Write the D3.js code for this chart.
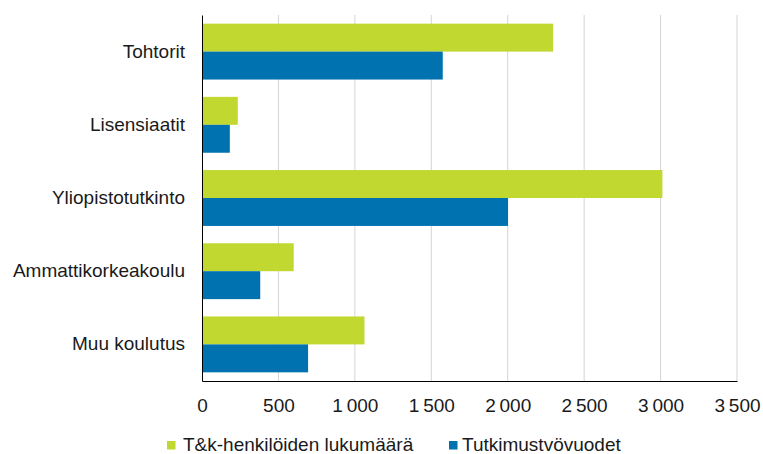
<!DOCTYPE html>
<html>
<head>
<meta charset="utf-8">
<script src="https://cdn.jsdelivr.net/npm/d3@7"></script>
<style>
  body { margin: 0; background: #fff; }
  svg { font-family: "Liberation Sans", Arial, sans-serif; }
</style>
</head>
<body>
<div id="chart"></div>
<script>
// Data
const categories = ['Tohtorit', 'Lisensiaatit', 'Yliopistotutkinto', 'Ammattikorkeakoulu', 'Muu koulutus'];
const seriesNames = ['T&k-henkilöiden lukumäärä', 'Tutkimustvövuodet'];
const henkilot = [2297, 234, 3012, 600, 1063];
const vuodet = [1575, 182, 2002, 381, 694];
const ticks = [0, 500, 1000, 1500, 2000, 2500, 3000, 3500];
const colors = ['#c0d82f', '#0072b0'];

const width = 763, height = 454;
const margin = [15, 26, 73, 202]; // top, right, bottom, left
const fontSize = '19px';

const svg = d3.select('#chart')
    .append('svg')
    .attr('width', width)
    .attr('height', height);

const chartW = width - margin[1] - margin[3];
const chartH = height - margin[0] - margin[2];

const chart = svg.append('g')
    .attr('transform', `translate(${margin[3]}, ${margin[0]})`);

// Scales
const x = d3.scaleLinear()
    .domain([0, 3500])
    .range([0, chartW]);

const y = d3.scaleBand()
    .domain(categories)
    .range([0, chartH])
    .paddingInner(0)
    .paddingOuter(0);

const ySub = d3.scaleBand()
    .domain(seriesNames)
    .range([0, y.bandwidth()])
    .paddingInner(0)
    .paddingOuter(0.31);

const fmt = v => d3.format(',')(v).replace(/,/g, '\u2009');

// Gridlines
chart.append('g')
    .selectAll('line')
    .data(ticks.filter(t => t > 0))
    .join('line')
    .attr('x1', d => x(d))
    .attr('x2', d => x(d))
    .attr('y1', 0)
    .attr('y2', chartH)
    .attr('stroke', '#d4d4d4')
    .attr('stroke-width', 1);

// Bars
const rows = categories.map((c, i) => ({ c, vals: [henkilot[i], vuodet[i]] }));

chart.selectAll('g.row')
    .data(rows)
    .join('g')
    .attr('class', 'row')
    .attr('transform', d => `translate(0, ${y(d.c)})`)
    .selectAll('rect')
    .data(d => d.vals.map((v, j) => ({ k: seriesNames[j], v, j })))
    .join('rect')
    .attr('x', x(0))
    .attr('y', d => ySub(d.k))
    .attr('width', d => x(d.v) - x(0))
    .attr('height', ySub.bandwidth())
    .attr('fill', d => colors[d.j]);

// Axes
const xAxis = chart.append('g')
    .attr('transform', `translate(0, ${chartH})`)
    .call(d3.axisBottom(x).tickValues(ticks).tickSize(0).tickPadding(18).tickFormat(fmt));
xAxis.select('.domain').attr('stroke', '#000');
xAxis.selectAll('text')
    .style('font-size', fontSize)
    .style('fill', '#1a1a1a')
    .style('font-family', '"Liberation Sans", Arial, sans-serif');

const yAxis = chart.append('g')
    .call(d3.axisLeft(y).tickSize(0).tickPadding(17));
yAxis.select('.domain').attr('stroke', '#000');
yAxis.selectAll('text')
    .style('font-size', fontSize)
    .style('fill', '#1a1a1a')
    .style('font-family', '"Liberation Sans", Arial, sans-serif');

// Legend
const legendX = [167, 449];
const legend = svg.append('g')
    .selectAll('g')
    .data(seriesNames)
    .join('g')
    .attr('transform', (d, i) => `translate(${legendX[i]}, 451)`);

legend.append('rect')
    .attr('x', 0)
    .attr('y', -10)
    .attr('width', 8.5)
    .attr('height', 8.5)
    .attr('fill', (d, i) => colors[i]);

legend.append('text')
    .attr('x', (d, i) => i === 0 ? 16 : 13)
    .attr('y', 0)
    .style('font-size', fontSize)
    .style('fill', '#1a1a1a')
    .text(d => d);
</script>
</body>
</html>
